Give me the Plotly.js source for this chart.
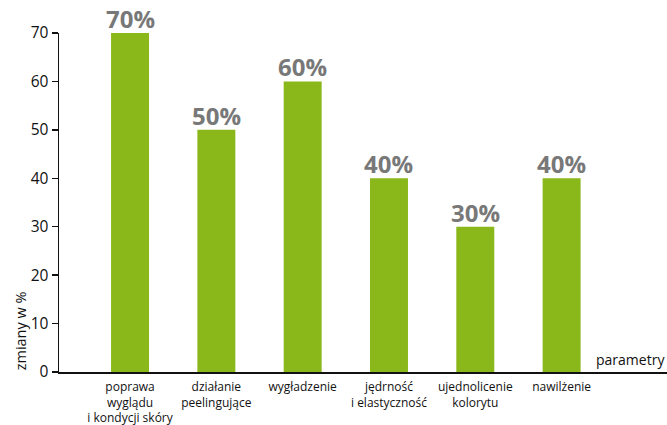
<!DOCTYPE html>
<html>
<head>
<meta charset="utf-8">
<script src="https://cdn.plot.ly/plotly-3.0.1.min.js"></script>
<style>html,body{margin:0;padding:0;background:#fff;}#chart{width:667px;height:425px;}</style>
</head>
<body>
<div id="chart"></div>
<script>
const categories = ["poprawa", "działanie", "wygładzenie", "jędrność", "ujednolicenie", "nawilżenie"];
const tickLabels = ["poprawa<br>wyglądu<br>i kondycji skóry", "działanie<br>peelingujące", "wygładzenie", "jędrność<br>i elastyczność", "ujednolicenie<br>kolorytu", "nawilżenie"];
const values = [70, 50, 60, 40, 30, 40];
const valueLabels = ["70%", "50%", "60%", "40%", "30%", "40%"];

const trace = {
  type: "bar",
  x: categories.map((c, i) => i),
  y: values,
  marker: {color: "#8ab81a"},
  width: 0.44,
  hoverinfo: "none"
};

const valueAnnotations = values.map((v, i) => ({
  x: i, y: v, xref: "x", yref: "y",
  text: valueLabels[i],
  xanchor: "center", yanchor: "bottom", yshift: -4,
  showarrow: false,
  font: {family: "Open Sans, Noto Sans, sans-serif", size: 24, color: "#787878", weight: "bold"}
}));

const layout = {
  width: 667, height: 425,
  margin: {l: 59, r: 0, t: 33, b: 53},
  paper_bgcolor: "#fff", plot_bgcolor: "#fff",
  showlegend: false,
  font: {family: "Open Sans, Noto Sans, sans-serif", color: "#111"},
  xaxis: {
    range: [-0.823, 6.221],
    tickvals: categories.map((c, i) => i),
    ticktext: tickLabels,
    tickfont: {size: 12, color: "#111"},
    showline: true, linecolor: "#111", linewidth: 1.5,
    showgrid: false, zeroline: false, ticks: "outside", ticklen: 3, tickcolor: "rgba(0,0,0,0)",
    fixedrange: true
  },
  yaxis: {
    range: [0, 70],
    tickvals: [0, 10, 20, 30, 40, 50, 60, 70],
    tickfont: {size: 15.5, color: "#111"},
    showline: true, linecolor: "#111", linewidth: 1.5,
    ticks: "outside", ticklen: 6, tickwidth: 1.5, tickcolor: "#111",
    showgrid: false, zeroline: false,
    fixedrange: true
  },
  annotations: valueAnnotations.concat([{
    text: "parametry", xref: "paper", yref: "paper", x: 1, y: 0,
    xanchor: "right", yanchor: "bottom", yshift: 1, showarrow: false,
    font: {size: 14, color: "#111"}
  }, {
    text: "zmiany w %", xref: "paper", yref: "paper", x: 0, y: 0.12,
    xanchor: "center", yanchor: "middle", xshift: -39, showarrow: false, textangle: -90,
    font: {size: 14.5, color: "#111"}
  }])
};

Plotly.newPlot("chart", [trace], layout, {displayModeBar: false, staticPlot: true});
</script>
</body>
</html>
